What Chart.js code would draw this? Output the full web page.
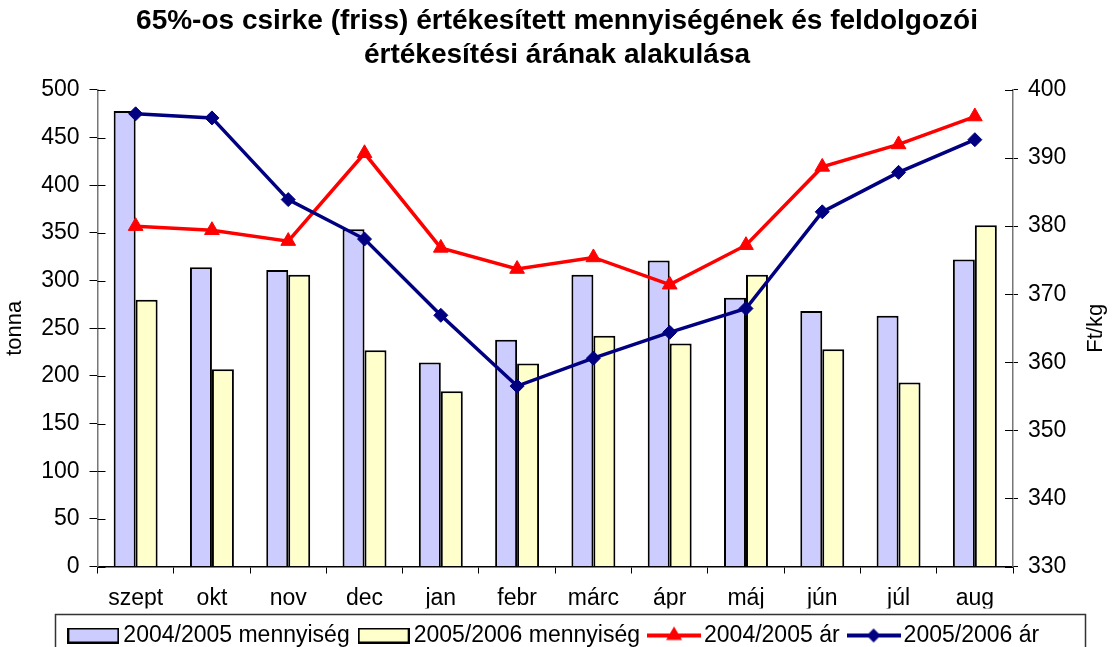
<!DOCTYPE html>
<html><head><meta charset="utf-8">
<script src="https://cdn.jsdelivr.net/npm/chart.js@4.4.1/dist/chart.umd.min.js"></script>
<style>html,body{margin:0;padding:0;overflow:hidden;background:#fff;width:1114px;height:647px}canvas{display:block}</style>
</head><body>
<canvas id="c" width="1114" height="657"></canvas>
<script>
const categories = ['szept','okt','nov','dec','jan','febr','márc','ápr','máj','jún','júl','aug'];
const qty0405 = [478, 314, 311, 354, 214, 238, 306, 321, 282, 268, 263, 322];
const qty0506 = [280, 207, 306, 227, 184, 213, 242, 234, 306, 228, 193, 358];
const price0405 = [380.0, 379.4, 377.8, 390.7, 376.8, 373.7, 375.4, 371.4, 377.2, 388.7, 392.0, 396.1];
const price0506 = [396.5, 395.9, 383.9, 378.1, 366.9, 356.5, 360.6, 364.4, 367.9, 382.1, 387.9, 392.7];
const seriesNames = ['2004/2005 mennyiség','2005/2006 mennyiség','2004/2005 ár','2005/2006 ár'];
const titleLines = ['65%-os csirke (friss) értékesített mennyiségének és feldolgozói','értékesítési árának alakulása'];
const leftAxisTitle = 'tonna';
const rightAxisTitle = 'Ft/kg';
const leftTicks = {min:0, max:500, step:50};
const rightTicks = {min:330, max:400, step:10};

const FONT = "'Liberation Sans', Arial, sans-serif";
Chart.defaults.font.family = FONT;
Chart.defaults.color = '#000';

function barSwatch(fill){
  const c=document.createElement('canvas'); c.width=52; c.height=16;
  const x=c.getContext('2d'); x.fillStyle=fill; x.fillRect(1,1,50,14);
  x.strokeStyle='#000'; x.lineWidth=2; x.strokeRect(1,1,50,14); return c;
}
function lineSwatch(color, shape){
  const c=document.createElement('canvas'); c.width=54; c.height=22;
  const x=c.getContext('2d'); x.strokeStyle=color; x.fillStyle=color; x.lineWidth=4;
  x.beginPath(); x.moveTo(0,11); x.lineTo(54,11); x.stroke();
  x.beginPath();
  if(shape==='triangle'){ x.moveTo(27,2); x.lineTo(35,15.5); x.lineTo(19,15.5); }
  else { x.moveTo(20,11); x.lineTo(27,4); x.lineTo(34,11); x.lineTo(27,18); }
  x.closePath(); x.fill(); return c;
}
const swatches = [barSwatch('#CCCCFF'), barSwatch('#FFFFCC'), lineSwatch('#FF0000','triangle'), lineSwatch('#000080','diamond')];

const extras = {
  id:'extras',
  afterDraw(chart){
    const ctx=chart.ctx; const ya=chart.scales.y, yb=chart.scales.y1;
    ctx.save(); ctx.strokeStyle='#000'; ctx.lineWidth=1;
    ya.ticks.forEach((t,i)=>{const py=Math.round(ya.getPixelForTick(i))+0.5; ctx.beginPath(); ctx.moveTo(ya.right,py); ctx.lineTo(ya.right+8,py); ctx.stroke();});
    yb.ticks.forEach((t,i)=>{const py=Math.round(yb.getPixelForTick(i))+0.5; ctx.beginPath(); ctx.moveTo(yb.left,py); ctx.lineTo(yb.left-8,py); ctx.stroke();});
    ctx.fillStyle='#000'; ctx.font="22px "+FONT; ctx.textAlign='center'; ctx.textBaseline='middle';
    ctx.translate(1096,(chart.chartArea.top+chart.chartArea.bottom)/2); ctx.rotate(-Math.PI/2);
    ctx.fillText(rightAxisTitle,0,0);
    ctx.restore();
    ctx.save(); ctx.strokeStyle='#333'; ctx.lineWidth=1.5;
    ctx.strokeRect(55.5,614.5,1030,60); ctx.restore();
  }
};

new Chart(document.getElementById('c'), {
  data:{
    labels:categories,
    datasets:[
      {type:'bar', label:seriesNames[0], data:qty0405, yAxisID:'y', backgroundColor:'#CCCCFF', borderColor:'#000', borderWidth:2, order:2, categoryPercentage:0.576, barPercentage:1},
      {type:'bar', label:seriesNames[1], data:qty0506, yAxisID:'y', backgroundColor:'#FFFFCC', borderColor:'#000', borderWidth:2, order:3, categoryPercentage:0.576, barPercentage:1},
      {type:'line', label:seriesNames[2], data:price0405, yAxisID:'y1', borderColor:'#FF0000', backgroundColor:'#FF0000', borderWidth:3.5, pointStyle:'triangle', pointRadius:8.5, pointBorderWidth:1, tension:0, order:1},
      {type:'line', label:seriesNames[3], data:price0506, yAxisID:'y1', borderColor:'#000080', backgroundColor:'#000080', borderWidth:3.5, pointStyle:'rectRot', pointRadius:7, pointBorderWidth:1, tension:0, order:0}
    ]
  },
  options:{
    responsive:false, animation:false, devicePixelRatio:1,
    layout:{padding:0},
    plugins:{
      title:{display:true, text:titleLines, font:{size:28, weight:'bold', lineHeight:1.214}, color:'#000', padding:{top:4,bottom:18}},
      legend:{position:'bottom', labels:{usePointStyle:true, pointStyleWidth:37, font:{size:23}, padding:15.5, color:'#000',
        generateLabels:()=>seriesNames.map((t,i)=>({text:t, pointStyle:swatches[i], datasetIndex:i, hidden:false, fillStyle:'transparent', strokeStyle:'transparent', lineWidth:0, fontColor:'#000'}))}},
      tooltip:{enabled:false}
    },
    scales:{
      x:{grid:{drawOnChartArea:false, tickLength:7, color:'#000'}, border:{color:'#000', width:1.5},
         ticks:{font:{size:23}, padding:11, color:'#000', maxRotation:0},
         afterFit(s){s.height=42;}},
      y:{position:'left', min:leftTicks.min, max:leftTicks.max, grid:{drawOnChartArea:false, tickLength:8, color:'#000'}, border:{color:'#777', width:1.5},
         ticks:{stepSize:leftTicks.step, font:{size:23}, padding:10, color:'#000'},
         title:{display:true, text:leftAxisTitle, font:{size:22}, padding:{top:2,bottom:0}, color:'#000'},
         afterFit(s){s.width=97.5;}},
      y1:{position:'right', min:rightTicks.min, max:rightTicks.max, grid:{drawOnChartArea:false, tickLength:5, color:'#000'}, border:{color:'#777', width:1.5},
         ticks:{stepSize:rightTicks.step, font:{size:23}, padding:10, color:'#000'},
         afterFit(s){s.width=101;}}
    }
  },
  plugins:[extras]
});
</script>
</body></html>
